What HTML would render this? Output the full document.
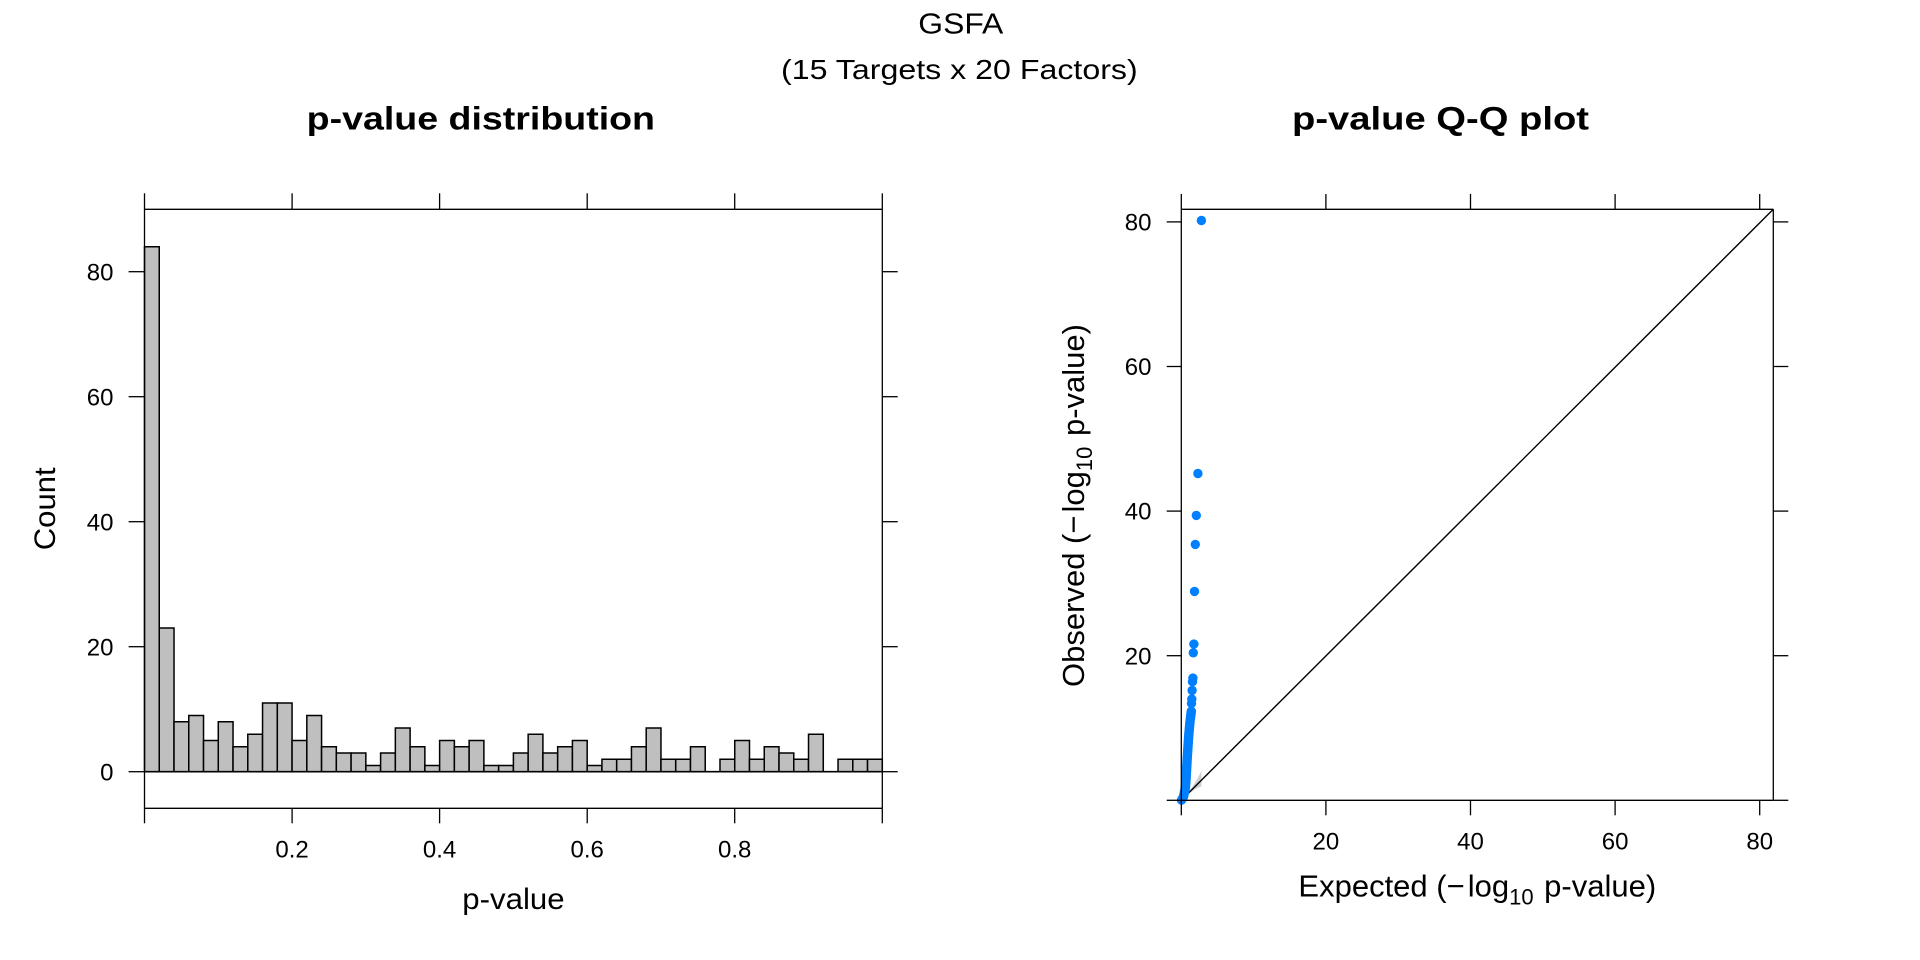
<!DOCTYPE html>
<html>
<head>
<meta charset="utf-8">
<style>
  html, body { margin:0; padding:0; background:#ffffff; }
  svg { display:block; }
  text { font-family: "Liberation Sans", Arial, Helvetica, sans-serif; fill:#000; }
  .bars rect { vector-effect: non-scaling-stroke; fill:#bfbfbf; stroke:#000; stroke-width:1.5; }
  .ax line { stroke:#000; stroke-width:1.3; }
</style>
</head>
<body>
<svg width="1920" height="960" viewBox="0 0 1920 960" xmlns="http://www.w3.org/2000/svg">
  <rect x="0" y="0" width="1920" height="960" fill="#ffffff"/>

  <text x="918.3" y="33.5" font-size="29" textLength="85" lengthAdjust="spacingAndGlyphs">GSFA</text>
  <text x="781" y="79" font-size="28" textLength="356.7" lengthAdjust="spacingAndGlyphs">(15 Targets x 20 Factors)</text>

  <text x="306.7" y="129.3" font-size="32" font-weight="bold" textLength="348.3" lengthAdjust="spacingAndGlyphs">p-value distribution</text>
  <text x="1292" y="129.3" font-size="32" font-weight="bold" textLength="297" lengthAdjust="spacingAndGlyphs">p-value Q-Q plot</text>

  <g class="bars" transform="translate(144.5,771.7) scale(14.756,-6.25)">
    <rect x="0" y="0" width="1" height="84"/>
    <rect x="1" y="0" width="1" height="23"/>
    <rect x="2" y="0" width="1" height="8"/>
    <rect x="3" y="0" width="1" height="9"/>
    <rect x="4" y="0" width="1" height="5"/>
    <rect x="5" y="0" width="1" height="8"/>
    <rect x="6" y="0" width="1" height="4"/>
    <rect x="7" y="0" width="1" height="6"/>
    <rect x="8" y="0" width="1" height="11"/>
    <rect x="9" y="0" width="1" height="11"/>
    <rect x="10" y="0" width="1" height="5"/>
    <rect x="11" y="0" width="1" height="9"/>
    <rect x="12" y="0" width="1" height="4"/>
    <rect x="13" y="0" width="1" height="3"/>
    <rect x="14" y="0" width="1" height="3"/>
    <rect x="15" y="0" width="1" height="1"/>
    <rect x="16" y="0" width="1" height="3"/>
    <rect x="17" y="0" width="1" height="7"/>
    <rect x="18" y="0" width="1" height="4"/>
    <rect x="19" y="0" width="1" height="1"/>
    <rect x="20" y="0" width="1" height="5"/>
    <rect x="21" y="0" width="1" height="4"/>
    <rect x="22" y="0" width="1" height="5"/>
    <rect x="23" y="0" width="1" height="1"/>
    <rect x="24" y="0" width="1" height="1"/>
    <rect x="25" y="0" width="1" height="3"/>
    <rect x="26" y="0" width="1" height="6"/>
    <rect x="27" y="0" width="1" height="3"/>
    <rect x="28" y="0" width="1" height="4"/>
    <rect x="29" y="0" width="1" height="5"/>
    <rect x="30" y="0" width="1" height="1"/>
    <rect x="31" y="0" width="1" height="2"/>
    <rect x="32" y="0" width="1" height="2"/>
    <rect x="33" y="0" width="1" height="4"/>
    <rect x="34" y="0" width="1" height="7"/>
    <rect x="35" y="0" width="1" height="2"/>
    <rect x="36" y="0" width="1" height="2"/>
    <rect x="37" y="0" width="1" height="4"/>
    <rect x="39" y="0" width="1" height="2"/>
    <rect x="40" y="0" width="1" height="5"/>
    <rect x="41" y="0" width="1" height="2"/>
    <rect x="42" y="0" width="1" height="4"/>
    <rect x="43" y="0" width="1" height="3"/>
    <rect x="44" y="0" width="1" height="2"/>
    <rect x="45" y="0" width="1" height="6"/>
    <rect x="47" y="0" width="1" height="2"/>
    <rect x="48" y="0" width="1" height="2"/>
    <rect x="49" y="0" width="1" height="2"/>
  </g>

  <g class="ax">
    <line x1="144.5" y1="771.7" x2="882.3" y2="771.7" style="stroke-width:1.6"/>
    <line x1="144.5" y1="209.3" x2="882.3" y2="209.3"/>
    <line x1="144.5" y1="808.3" x2="882.3" y2="808.3"/>
    <line x1="144.5" y1="209.3" x2="144.5" y2="808.3"/>
    <line x1="882.3" y1="209.3" x2="882.3" y2="808.3"/>
    <line x1="128.6" y1="771.7" x2="144.5" y2="771.7"/>
    <line x1="128.6" y1="646.7" x2="144.5" y2="646.7"/>
    <line x1="128.6" y1="521.7" x2="144.5" y2="521.7"/>
    <line x1="128.6" y1="396.7" x2="144.5" y2="396.7"/>
    <line x1="128.6" y1="271.7" x2="144.5" y2="271.7"/>
    <line x1="882.3" y1="771.7" x2="897.7" y2="771.7"/>
    <line x1="882.3" y1="646.7" x2="897.7" y2="646.7"/>
    <line x1="882.3" y1="521.7" x2="897.7" y2="521.7"/>
    <line x1="882.3" y1="396.7" x2="897.7" y2="396.7"/>
    <line x1="882.3" y1="271.7" x2="897.7" y2="271.7"/>
    <line x1="144.5" y1="193.3" x2="144.5" y2="209.3"/>
    <line x1="292.1" y1="193.3" x2="292.1" y2="209.3"/>
    <line x1="439.6" y1="193.3" x2="439.6" y2="209.3"/>
    <line x1="587.2" y1="193.3" x2="587.2" y2="209.3"/>
    <line x1="734.7" y1="193.3" x2="734.7" y2="209.3"/>
    <line x1="882.3" y1="193.3" x2="882.3" y2="209.3"/>
    <line x1="144.5" y1="808.3" x2="144.5" y2="823.3"/>
    <line x1="292.1" y1="808.3" x2="292.1" y2="823.3"/>
    <line x1="439.6" y1="808.3" x2="439.6" y2="823.3"/>
    <line x1="587.2" y1="808.3" x2="587.2" y2="823.3"/>
    <line x1="734.7" y1="808.3" x2="734.7" y2="823.3"/>
    <line x1="882.3" y1="808.3" x2="882.3" y2="823.3"/>
  </g>

  <g text-anchor="end" font-size="24">
    <text x="113.5" y="780.3">0</text>
    <text x="113.5" y="655.3">20</text>
    <text x="113.5" y="530.3">40</text>
    <text x="113.5" y="405.3">60</text>
    <text x="113.5" y="280.3">80</text>
  </g>
  <g text-anchor="middle" font-size="24">
    <text x="292.1" y="857.3">0.2</text>
    <text x="439.6" y="857.3">0.4</text>
    <text x="587.2" y="857.3">0.6</text>
    <text x="734.7" y="857.3">0.8</text>
  </g>

  <text x="462.3" y="909" font-size="30" textLength="102.3" lengthAdjust="spacingAndGlyphs">p-value</text>
  <g transform="translate(55,508.8) rotate(-90)">
    <text x="-41.5" y="0" font-size="30" textLength="83" lengthAdjust="spacingAndGlyphs">Count</text>
  </g>

  <polygon fill="#cfcfcf" stroke="none" points="1181.3,800.3 1184.8,796.3 1186.9,793.7 1189.8,790.3 1192.1,787.3 1194.2,783.9 1196.3,780.8 1197.9,777.9 1201.4,770.9 1201.4,786.5 1197.9,787.8 1196.3,788.6 1194.2,789.7 1192.1,791.3 1189.8,793.0 1186.9,795.4 1184.8,797.3"/>

  <line x1="1181.3" y1="800.3" x2="1773.3" y2="209.3" stroke="#000" stroke-width="1.4"/>

  <polyline fill="none" stroke="#0080ff" stroke-width="9.4" stroke-linecap="round" stroke-linejoin="round"
    points="1191.3,711.4 1189.9,722.4 1188.6,737.2 1187.3,756.8 1186.4,773.0 1185.7,784.5 1185.3,788.0 1183.5,796.7 1181.5,800.1"/>

  <g fill="#0080ff">
    <circle cx="1201.4" cy="220.5" r="4.7"/>
    <circle cx="1197.9" cy="473.5" r="4.7"/>
    <circle cx="1196.3" cy="515.4" r="4.7"/>
    <circle cx="1195.3" cy="544.4" r="4.7"/>
    <circle cx="1194.5" cy="591.4" r="4.7"/>
    <circle cx="1193.9" cy="644.1" r="4.7"/>
    <circle cx="1193.3" cy="652.8" r="4.7"/>
    <circle cx="1192.9" cy="678.1" r="4.7"/>
    <circle cx="1192.5" cy="681.7" r="4.7"/>
    <circle cx="1192.1" cy="690.4" r="4.7"/>
    <circle cx="1191.8" cy="699.1" r="4.7"/>
    <circle cx="1191.5" cy="703.4" r="4.7"/>
    <circle cx="1191.3" cy="711.4" r="4.7"/>
  </g>

  <g class="ax">
    <line x1="1181.3" y1="209.3" x2="1773.3" y2="209.3"/>
    <line x1="1181.3" y1="800.3" x2="1773.3" y2="800.3"/>
    <line x1="1181.3" y1="209.3" x2="1181.3" y2="800.3"/>
    <line x1="1773.3" y1="209.3" x2="1773.3" y2="800.3"/>
    <line x1="1166.7" y1="800.3" x2="1181.3" y2="800.3"/>
    <line x1="1166.7" y1="655.7" x2="1181.3" y2="655.7"/>
    <line x1="1166.7" y1="511.1" x2="1181.3" y2="511.1"/>
    <line x1="1166.7" y1="366.5" x2="1181.3" y2="366.5"/>
    <line x1="1166.7" y1="221.9" x2="1181.3" y2="221.9"/>
    <line x1="1773.3" y1="800.3" x2="1788.3" y2="800.3"/>
    <line x1="1773.3" y1="655.7" x2="1788.3" y2="655.7"/>
    <line x1="1773.3" y1="511.1" x2="1788.3" y2="511.1"/>
    <line x1="1773.3" y1="366.5" x2="1788.3" y2="366.5"/>
    <line x1="1773.3" y1="221.9" x2="1788.3" y2="221.9"/>
    <line x1="1181.3" y1="194" x2="1181.3" y2="209.3"/>
    <line x1="1325.9" y1="194" x2="1325.9" y2="209.3"/>
    <line x1="1470.5" y1="194" x2="1470.5" y2="209.3"/>
    <line x1="1615.1" y1="194" x2="1615.1" y2="209.3"/>
    <line x1="1759.7" y1="194" x2="1759.7" y2="209.3"/>
    <line x1="1181.3" y1="800.3" x2="1181.3" y2="815.3"/>
    <line x1="1325.9" y1="800.3" x2="1325.9" y2="815.3"/>
    <line x1="1470.5" y1="800.3" x2="1470.5" y2="815.3"/>
    <line x1="1615.1" y1="800.3" x2="1615.1" y2="815.3"/>
    <line x1="1759.7" y1="800.3" x2="1759.7" y2="815.3"/>
  </g>

  <g text-anchor="end" font-size="24">
    <text x="1151.5" y="664.3">20</text>
    <text x="1151.5" y="519.7">40</text>
    <text x="1151.5" y="375.1">60</text>
    <text x="1151.5" y="230.5">80</text>
  </g>
  <g text-anchor="middle" font-size="24">
    <text x="1325.9" y="849.3">20</text>
    <text x="1470.5" y="849.3">40</text>
    <text x="1615.1" y="849.3">60</text>
    <text x="1759.7" y="849.3">80</text>
  </g>

  <text x="1477.3" y="896.7" font-size="31" text-anchor="middle">Expected (−<tspan dx="3">log</tspan><tspan font-size="22" dy="8">10</tspan><tspan dy="-8" dx="2"> p-value)</tspan></text>

  <g transform="translate(1084,505.5) rotate(-90)">
    <text x="0" y="0" font-size="31" text-anchor="middle">Observed (−<tspan dx="3">log</tspan><tspan font-size="22" dy="8">10</tspan><tspan dy="-8" dx="2"> p-value)</tspan></text>
  </g>
</svg>
</body>
</html>
